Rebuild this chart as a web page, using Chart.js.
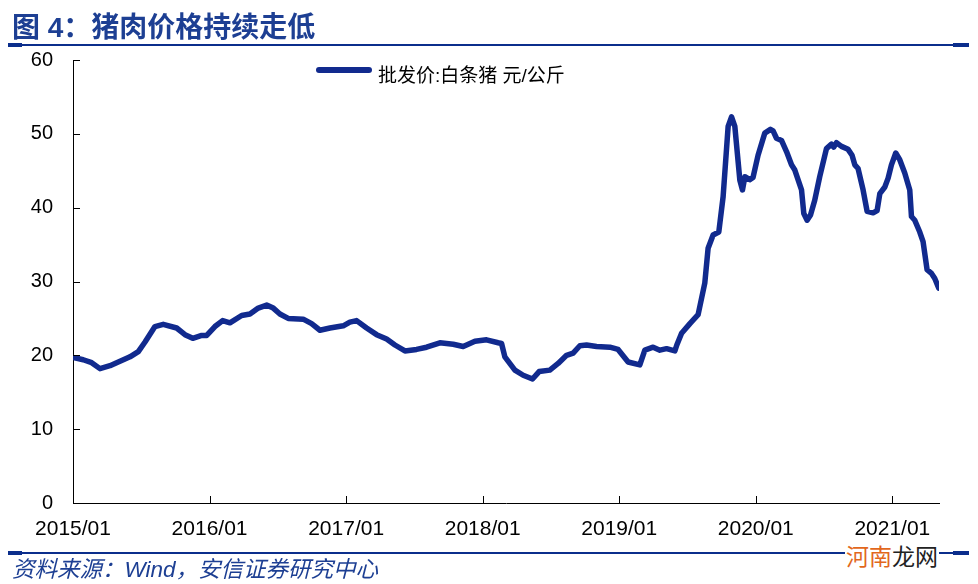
<!DOCTYPE html>
<html>
<head>
<meta charset="utf-8">
<script src="https://cdn.jsdelivr.net/npm/chart.js@4.4.1/dist/chart.umd.min.js"></script>
<style>
  html, body { margin: 0; padding: 0; background: #fff; }
  #wrap { position: relative; width: 978px; height: 584px; overflow: hidden; }
  canvas { position: absolute; left: 0; top: 0; }
  .txt { position: absolute; white-space: nowrap; line-height: 1; }
  #title { left: 12px; top: 5px; font: bold 28px "Liberation Sans", "Noto Sans CJK SC", sans-serif; color: #1d3f93; }
  .rule { position: absolute; height: 2px; background: #0b2e8c; }
  .cap { position: absolute; height: 4px; background: #0b2e8c; }
  #legend { left: 316px; top: 60px; height: 20px; }
  #legline { position: absolute; left: 0; top: 7px; width: 56px; height: 6px; background: #112a8e; border-radius: 3px; }
  #legtext { position: absolute; left: 62px; top: 0; font: 19px "Liberation Sans", "Noto Sans CJK SC", sans-serif; color: #000; }
  #source { left: 12px; top: 551px; font: italic 22.5px "Liberation Sans", "Noto Sans CJK SC", sans-serif; color: #1d3f93; }
  #wm { left: 845px; top: 538px; font: 23px "Noto Sans CJK SC", sans-serif; background: #fff; padding: 0 1px; }
</style>
</head>
<body>
<div id="wrap">
  <canvas id="c" width="978" height="584"></canvas>
  <div class="txt" id="title">图 4：猪肉价格持续走低</div>
  <div class="rule" style="left:8px; width:961px; top:44px;"></div>
  <div class="cap" style="left:8px; width:14px; top:43px;"></div>
  <div class="cap" style="left:953px; width:16px; top:43px;"></div>
  <div class="txt" id="legend"><span id="legline"></span><span id="legtext"></span></div>
  <div class="rule" style="left:8px; width:961px; top:552px;"></div>
  <div class="cap" style="left:8px; width:14px; top:551px;"></div>
  <div class="cap" style="left:953px; width:16px; top:551px;"></div>
  <div class="txt" id="source">资料来源：Wind，安信证券研究中心</div>
  <div class="txt" id="wm"><span style="color:#e2671c">河南</span><span style="color:#222">龙网</span></div>
</div>
<script>
// ---- data ----
const seriesName = '批发价:白条猪 元/公斤';
const tickLabels = ['2015/01', '2016/01', '2017/01', '2018/01', '2019/01', '2020/01', '2021/01'];
const tickMonths = [0, 12, 24, 36, 48, 60, 72];  // months since 2015/01
const yTicks = [0, 10, 20, 30, 40, 50, 60];
// months since 2015/01 (approximate dates of observations)
const months = [0, 0.9, 1.64, 2.37, 3.25, 4.13, 5.01, 5.74, 6.33, 7.2, 7.93, 9.11, 9.84, 10.52, 11.31, 11.75,
  12.47, 13.15, 13.79, 14.82, 15.55, 16.28, 17.02, 17.6, 18.18, 18.91, 20.23, 20.97, 21.7, 22.58, 23.75,
  24.33, 24.92, 25.8, 26.68, 27.56, 28.29, 29.17, 30.19, 31.07, 32.24, 33.41, 34.29, 35.32,
  36.34, 37.36, 37.66, 37.95, 38.83, 39.56, 40.38, 40.96, 41.9, 42.63, 43.37, 43.95, 44.54, 45.13, 46.01, 47.18, 47.9,
  48.78, 49.81, 50.25, 50.98, 51.57, 52.16, 52.89, 53.06, 53.48, 54.21, 54.93, 55.52, 55.81, 56.25, 56.75, 57.13, 57.57, 57.87,
  58.16, 58.6, 58.83, 59.04, 59.47, 59.76, 60.2, 60.79, 61.29, 61.52, 61.82, 62.26, 62.7, 63.14, 63.43, 64.02, 64.22, 64.51,
  64.81, 65.18, 65.62, 66.21, 66.65, 66.85, 67.09, 67.53, 68.11, 68.46, 68.7, 68.99, 69.43, 69.78, 70.31, 70.66, 70.9,
  71.34, 71.63, 71.92, 72.3, 72.65, 73.09, 73.53, 73.68, 73.97, 74.41, 74.7, 75.05, 75.44, 75.73, 76.08];
const prices = [19.7, 19.4, 19.0, 18.2, 18.6, 19.2, 19.8, 20.5, 21.8, 23.9, 24.2, 23.7, 22.8, 22.3, 22.7, 22.7,
  23.9, 24.7, 24.4, 25.4, 25.6, 26.4, 26.8, 26.4, 25.6, 25.0, 24.9, 24.3, 23.4, 23.7, 24.0,
  24.5, 24.7, 23.7, 22.8, 22.2, 21.4, 20.6, 20.8, 21.1, 21.7, 21.5, 21.2, 21.9,
  22.1, 21.7, 21.6, 19.8, 18.0, 17.3, 16.8, 17.8, 18.0, 18.9, 20.0, 20.3, 21.3, 21.4, 21.2, 21.1, 20.8,
  19.1, 18.7, 20.7, 21.1, 20.7, 20.9, 20.6, 21.4, 23.0, 24.3, 25.5, 29.8, 34.5, 36.3, 36.7, 41.5, 51.0, 52.3,
  51.0, 43.7, 42.4, 44.2, 43.8, 44.1, 47.1, 50.1, 50.6, 50.4, 49.4, 49.1, 47.6, 45.8, 45.1, 42.4, 39.2, 38.3,
  39.0, 41.0, 44.2, 48.0, 48.6, 48.2, 48.8, 48.3, 47.9, 47.1, 45.8, 45.3, 42.4, 39.5, 39.3, 39.6, 41.9,
  42.8, 44.0, 45.8, 47.4, 46.5, 44.7, 42.4, 38.8, 38.3, 36.7, 35.4, 31.6, 31.1, 30.4, 29.1];

const lineColor = '#112a8e';
document.getElementById('legtext').textContent = seriesName;

const inwardTicks = {
  id: 'inwardTicks',
  afterDraw(chart) {
    const {ctx, scales: {x, y}} = chart;
    ctx.save();
    ctx.strokeStyle = '#000';
    ctx.lineWidth = 1;
    ctx.beginPath();
    tickMonths.forEach(m => {
      const px = Math.round(x.getPixelForValue(m)) + 0.5;
      ctx.moveTo(px, y.bottom); ctx.lineTo(px, y.bottom - 7);
    });
    yTicks.forEach(v => {
      const py = Math.round(y.getPixelForValue(v)) + 0.5;
      ctx.moveTo(x.left, py); ctx.lineTo(x.left + 7, py);
    });
    ctx.stroke();
    ctx.restore();
  }
};

new Chart(document.getElementById('c'), {
  type: 'line',
  data: {
    datasets: [{
      label: seriesName,
      data: months.map((m, i) => ({x: m, y: prices[i]})),
      borderColor: lineColor,
      backgroundColor: lineColor,
      borderWidth: 5.5,
      pointRadius: 0,
      tension: 0,
      borderJoinStyle: 'round',
      borderCapStyle: 'round',
      fill: false
    }]
  },
  options: {
    responsive: false,
    animation: false,
    devicePixelRatio: 1,
    layout: { padding: { top: 60, right: 39, bottom: 0, left: 0 } },
    plugins: { legend: { display: false }, tooltip: { enabled: false } },
    scales: {
      x: {
        type: 'linear',
        min: 0,
        max: 76.1,
        grid: { display: true, drawOnChartArea: false, drawTicks: false },
        border: { display: true, color: '#000', width: 1 },
        afterBuildTicks: s => { s.ticks = tickMonths.map(v => ({value: v})); },
        afterFit: s => { s.height = 81; },
        ticks: {
          autoSkip: false,
          maxRotation: 0,
          padding: 14,
          color: '#000',
          font: { family: '"Liberation Sans", Arial, sans-serif', size: 21 },
          callback: v => { const i = tickMonths.indexOf(v); return i >= 0 ? tickLabels[i] : ''; }
        }
      },
      y: {
        min: 0,
        max: 60,
        grid: { display: true, drawOnChartArea: false, drawTicks: false },
        border: { display: true, color: '#000', width: 1 },
        afterBuildTicks: s => { s.ticks = yTicks.map(v => ({value: v})); },
        afterFit: s => { s.width = 73; },
        ticks: {
          padding: 20,
          color: '#000',
          font: { family: '"Liberation Sans", Arial, sans-serif', size: 20 }
        }
      }
    }
  },
  plugins: [inwardTicks]
});
</script>
</body>
</html>
